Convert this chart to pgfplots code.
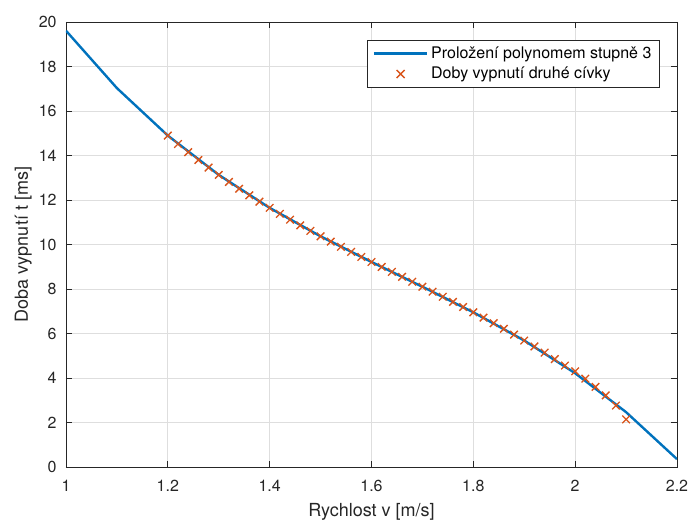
\documentclass[border=0pt]{standalone}
\usepackage{fontspec}
\setmainfont{TeX Gyre Heros}
\usepackage{pgfplots}
\pgfplotsset{compat=1.18}
\definecolor{mblue}{rgb}{0,0.447,0.741}
\definecolor{morange}{rgb}{0.85,0.325,0.098}
\definecolor{maxis}{rgb}{0.15,0.15,0.15}
\begin{document}
\begin{tikzpicture}
\begin{axis}[
  at={(0,0)}, anchor=south west,
  scale only axis, width=458.25pt, height=333.75pt,
  xmin=1, xmax=2.2, ymin=0, ymax=20,
  xtick={1,1.2,1.4,1.6,1.8,2,2.2},
  ytick={0,2,4,6,8,10,12,14,16,18,20},
  grid=major,
  major grid style={black!13, line width=0.5pt},
  axis line style={maxis, line width=0.6pt},
  tick style={maxis, line width=0.6pt},
  tick align=inside, major tick length=4.5pt,
  /pgf/number format/assume math mode=true,
  tick label style={font=\fontsize{12}{14}\selectfont, text=maxis},
  xticklabel style={yshift=-6.5pt},
  yticklabel style={xshift=-3.5pt},
  xlabel={Rychlost v [m/s]}, ylabel={Doba vypnutí t [ms]},
  every axis x label/.style={at={(axis description cs:0.5,-0.101)}, anchor=center, font=\fontsize{13.5}{15}\selectfont, text=maxis},
  every axis y label/.style={at={(axis description cs:-0.07,0.5)}, anchor=center, rotate=90, font=\fontsize{13.5}{15}\selectfont, text=maxis},
  legend cell align=left,
  legend style={at={(axis description cs:0.972,0.96)}, anchor=north east,
    font=\fontsize{12}{14}\selectfont, draw=maxis, line width=0.6pt, fill=white,
    row sep=1pt, inner xsep=4pt, inner ysep=3pt},
]
\addplot[mblue, line width=1.8pt,
  legend image code/.code={\draw[mblue, line width=1.8pt] (0pt,0pt) -- (40pt,0pt);}]
  coordinates {
  (1.0,19.607) (1.1,17.028) (1.2,14.895) (1.3,13.128) (1.4,11.646)
  (1.5,10.368) (1.6,9.214) (1.7,8.102) (1.8,6.952) (1.9,5.683)
  (2.0,4.214) (2.1,2.465) (2.2,0.354)
  };
\addlegendentry{Proložení polynomem stupně 3}
\addplot[only marks, mark=x, mark size=4pt, morange, mark options={line width=1pt},
  legend image code/.code={\path[draw=none] (0pt,0pt) -- (40pt,0pt); \draw[morange, line width=1pt] (17pt,-3pt) -- (23pt,3pt) (17pt,3pt) -- (23pt,-3pt);}]
  coordinates {
  (1.20,14.895) (1.22,14.515) (1.24,14.149) (1.26,13.796) (1.28,13.456)
  (1.30,13.128) (1.32,12.811) (1.34,12.505) (1.36,12.210) (1.38,11.923)
  (1.40,11.646) (1.42,11.377) (1.44,11.115) (1.46,10.860) (1.48,10.611)
  (1.50,10.368) (1.52,10.130) (1.54,9.896) (1.56,9.666) (1.58,9.439)
  (1.60,9.214) (1.62,8.991) (1.64,8.769) (1.66,8.547) (1.68,8.325)
  (1.70,8.102) (1.72,7.878) (1.74,7.651) (1.76,7.422) (1.78,7.189)
  (1.80,6.952) (1.82,6.711) (1.84,6.464) (1.86,6.211) (1.88,5.951)
  (1.90,5.683) (1.92,5.420) (1.94,5.140) (1.96,4.850) (1.98,4.560)
  (2.00,4.300) (2.02,3.970) (2.04,3.600) (2.06,3.220) (2.08,2.760)
  (2.10,2.140)
  };
\addlegendentry{Doby vypnutí druhé cívky}
\end{axis}
\pgfresetboundingbox
\path[use as bounding box] (-49.5pt,-42pt) rectangle (468pt,350.25pt);
\end{tikzpicture}
\end{document}
